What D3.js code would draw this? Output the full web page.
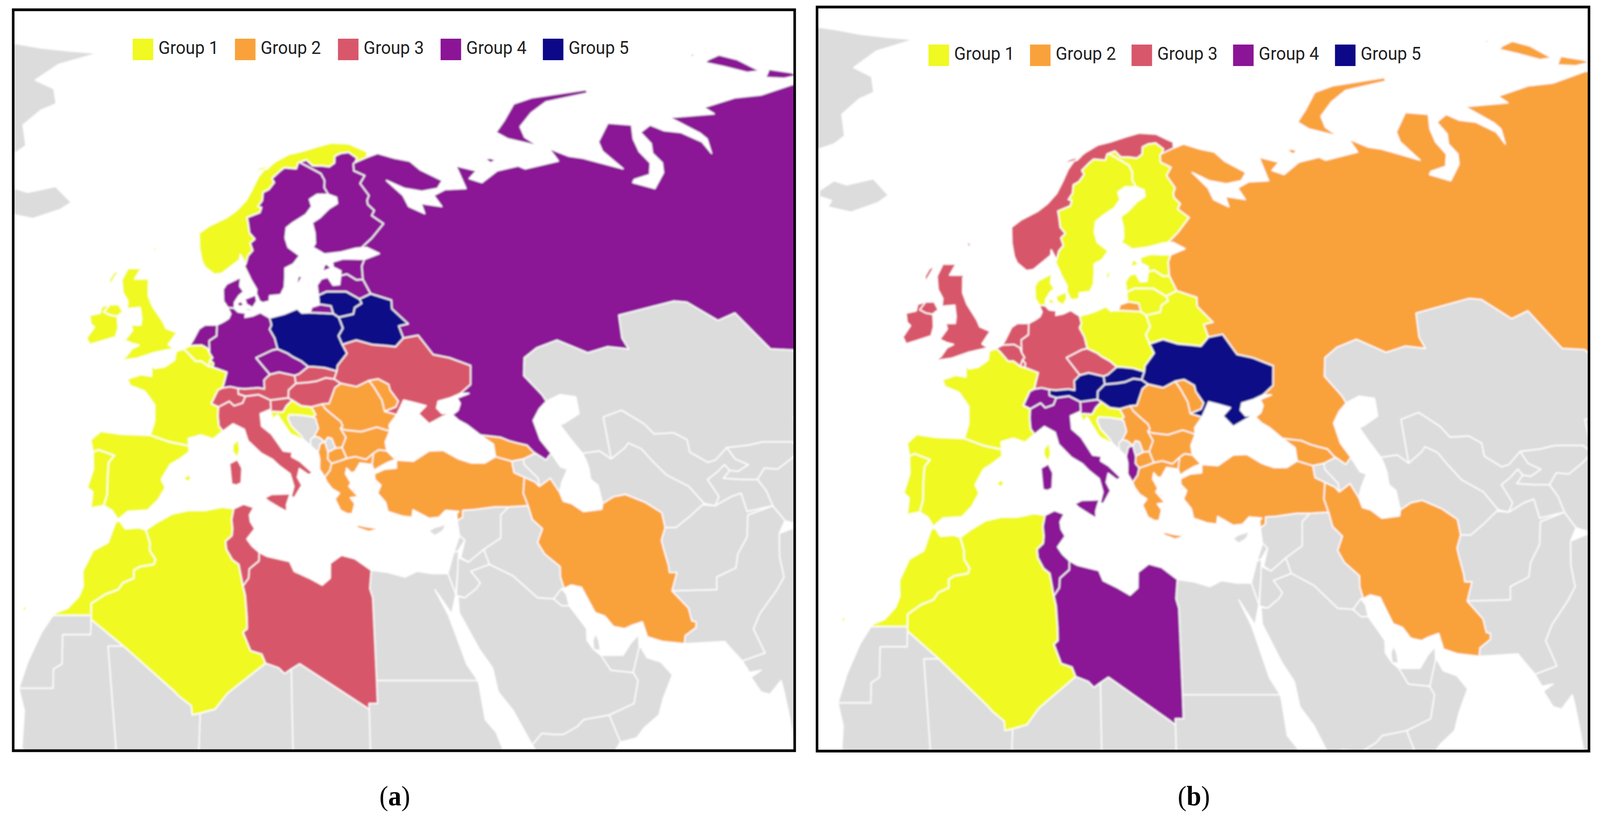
<!DOCTYPE html>
<html>
<head>
<meta charset="utf-8">
<script src="https://cdn.jsdelivr.net/npm/d3@7"></script>
<style>
  html, body { margin: 0; background: #fff; overflow: hidden; }
  #chart { display: block; width: 100vw; height: 100vh; }
</style>
</head>
<body>
<svg id="chart" viewBox="0 0 4365 2106" preserveAspectRatio="none"></svg>
<script>
// country outlines, [lon, lat] rings
const greenland = [[[-30,83],[-26,82.6],[-21.4,82],[-16.4,81.6],[-11.4,81.3],[-17.8,79.9],[-21.3,78],[-18,77],[-17.3,75.3],[-19.6,74.6],[-22.1,73],[-21.2,70.8],[-22.7,70],[-25,69.5],[-30,66],[-40,60],[-60,70]]];
const iceland = [[[-24,65.5],[-22,66.4],[-20,66],[-16,66.6],[-13.5,65],[-15,64.3],[-18.9,63.4],[-22.5,63.9],[-22,64.5],[-24,64.9]]];
const norway = [
  [[7,58],[8,58.1],[8.8,58.5],[10.6,59.4],[10.7,59.9],[11.4,59],[11.8,59.8],[12.5,60.3],[12.2,61],[12.9,61.4],[12.2,62],[12.1,63],[12,63.5],[13.9,64],[14.2,64.5],[13.7,64.6],[14.4,65.2],[14.6,66],[15.5,66.3],[16.4,67],[16.1,67.4],[17.3,68.1],[18.1,68.5],[19.9,68.4],[20.3,69],[20.55,69.06],[21.6,69.3],[22.4,68.7],[23.7,68.7],[24.9,68.6],[25.8,69],[26,69.7],[27,70],[28.2,70.1],[29.3,69.5],[28.9,69.05],[30.9,69.6],[31,70.2],[30,70.5],[28.5,71],[25.8,71.1],[23.5,70.7],[21,70.2],[19,69.9],[17,69.2],[15,68.3],[14,67.5],[13,66.3],[12,65.2],[10.5,64.2],[9,63.5],[6.5,62.7],[5,62],[5,60.5],[5.3,59.3],[5.7,58.7]],
  [[13,68],[15.5,68.4],[16.2,68.8],[14.5,68.5]]
];
const sweden = [
  [[13.4,55.35],[14.3,55.5],[14.4,56],[15.9,56.1],[16.5,56.8],[16.7,57.8],[16.8,58.6],[18,59],[19,59.8],[17.5,60.6],[17.2,61.5],[17.5,62.5],[18.5,63],[20.5,63.8],[21.5,64.6],[21.3,65.3],[22.5,65.8],[24.15,65.8],[23.7,66.5],[23.9,67.2],[23.5,67.9],[22,68.5],[20.55,69.06],[20.3,69],[19.9,68.4],[18.1,68.5],[17.3,68.1],[16.1,67.4],[16.4,67],[15.5,66.3],[14.6,66],[14.4,65.2],[13.7,64.6],[14.2,64.5],[13.9,64],[12,63.5],[12.1,63],[12.2,62],[12.9,61.4],[12.2,61],[12.5,60.3],[11.8,59.8],[11.4,59],[11.2,58.8],[11.7,58],[12,57.5],[12.7,56.6],[12.6,56.2],[13,55.5]],
  [[18.2,57],[18.8,57.5],[19.1,57.9],[18.5,57.8]],
  [[16.4,56.2],[16.9,56.9],[16.6,56.7]]
];
const finland = [[[24.15,65.8],[25.3,65.5],[25.3,64.9],[24,64.4],[22.5,63.5],[21.3,63],[21.5,62],[21.4,61],[21,60.6],[22.5,59.95],[24.9,60.15],[27,60.5],[27.8,60.55],[29.5,61.5],[31.5,62.9],[30,63.7],[30.5,64.2],[29.7,64.8],[29.7,65.2],[30.1,65.7],[29.1,66.9],[30,67.7],[28.5,68.2],[28.6,68.9],[28.9,69.05],[29.3,69.5],[28.2,70.1],[27,70],[26,69.7],[25.8,69],[24.9,68.6],[23.7,68.7],[22.4,68.7],[21.6,69.3],[20.55,69.06],[22,68.5],[23.5,67.9],[23.9,67.2],[23.7,66.5]]];
const denmark = [
  [[8.65,54.9],[8.1,55.5],[8.1,56.6],[8.6,57.1],[10.6,57.75],[10.4,56.9],[10.9,56.4],[10.2,56],[9.6,55.4],[9.5,54.85]],
  [[11,55.7],[12.5,56.1],[12.6,55.5],[12,54.9],[11.2,55.2]],
  [[9.9,55.3],[10.5,55.5],[10.8,55.1],[10.2,55]],
  [[11,54.85],[12,54.72],[11.9,54.6],[11.2,54.65]]
];
const germany = [[[8.65,54.9],[9.5,54.85],[10,54.5],[11,54.4],[10.9,54],[12,54.15],[13,54.45],[14.2,53.95],[14.4,53.3],[14.1,52.9],[14.7,52.1],[15,51.1],[14.3,51],[12.1,50.3],[13.8,48.8],[13,48.3],[13,47.5],[12.2,47.6],[10.5,47.5],[9.6,47.55],[8.6,47.7],[7.6,47.6],[8.2,49],[6.4,49.45],[6.5,49.8],[6.1,50.1],[6.4,50.3],[6,50.75],[6,51.85],[7,52.3],[7.1,53.3],[8,53.6],[8.7,53.9],[9,54.3]]];
const netherlands = [[[3.4,51.4],[3.9,51.95],[4.7,52.95],[5.5,53.3],[7.1,53.3],[7,52.3],[6,51.85],[6,50.75],[5.8,51.15],[5,51.45]]];
const belgium = [[[2.55,51.1],[3.4,51.4],[5,51.45],[5.8,51.15],[6,50.75],[6.4,50.3],[6.1,50.1],[5.8,49.55],[4.9,50],[4.15,50],[3.1,50.8]]];
const luxembourg = [[[5.8,49.55],[6.1,50.1],[6.5,49.8],[6.4,49.45]]];
const france = [
  [[2.55,51.1],[1.6,50.9],[1.4,50.1],[0.1,49.5],[-1.2,49.35],[-1.6,49.65],[-1.6,48.65],[-3,48.8],[-4.75,48.4],[-4.4,47.8],[-2.5,47.3],[-1.2,46.1],[-1.2,44.6],[-1.75,43.4],[0.7,42.8],[3.15,42.45],[3.1,43.1],[4.7,43.4],[6.2,43.05],[7.5,43.75],[7,44.2],[6.9,45.1],[7,45.9],[6.1,46.2],[7,47.4],[7.6,47.6],[8.2,49],[6.4,49.45],[5.8,49.55],[4.9,50],[4.15,50],[3.1,50.8]],
  [[9.4,43],[9.55,42.1],[9.2,41.4],[8.6,42],[8.7,42.6]]
];
const uk = [
  [[-5.7,50.05],[-3.5,50.25],[-1.3,50.75],[1.4,51.15],[0.6,51.5],[1.75,52.6],[0.3,53],[-0.1,53.6],[-1.5,55],[-2.1,56],[-2.1,57.4],[-1.8,57.6],[-4,57.6],[-3.1,58.6],[-5,58.6],[-5.8,57.5],[-5.6,56.3],[-4.9,55.5],[-5,54.8],[-3.2,54.9],[-3,53.9],[-3.1,53.3],[-4.4,53.3],[-4.2,52.8],[-5.2,51.9],[-4.2,51.6],[-3.3,51.45],[-4.2,51.15],[-5,50.4]],
  [[-5.5,54.5],[-6.1,55.2],[-7.3,55.2],[-8.1,54.5],[-7.2,54.2],[-6.3,54.1]],
  [[-7.4,57],[-6.2,58.4],[-6.9,58.2],[-7.5,57.5]],
  [[-1.3,60],[-1,60.6],[-1.5,60.5]]
];
const ireland = [[[-6.1,53],[-6.2,53.9],[-6.3,54.1],[-7.2,54.2],[-8.1,54.5],[-7.3,55.2],[-8.4,55],[-8.6,54.4],[-10,54.2],[-9.8,53.4],[-9.3,53.1],[-10.3,52.1],[-9.8,51.5],[-8.3,51.8],[-6.4,52.2]]];
const spain = [
  [[-9.25,43],[-8,43.75],[-5.5,43.5],[-1.75,43.4],[0.7,42.8],[3.15,42.45],[3.2,41.9],[2,41.3],[0.8,40.8],[-0.3,39.5],[0.2,38.8],[-0.7,37.7],[-2,36.8],[-4.4,36.7],[-5.6,36],[-6.4,36.8],[-7.4,37.2],[-7,38.2],[-7,39.7],[-6.9,41],[-6.2,41.6],[-8.2,42.1],[-8.9,41.9]],
  [[2.4,39.6],[3.1,39.95],[3.4,39.6],[3,39.3]],
  [[3.8,40],[4.3,40],[4.2,39.85]],
  [[1.2,38.95],[1.6,39.05],[1.5,38.9]],
  [[-13.4,29.2],[-13.6,28.9],[-14.3,28],[-14,28.5]],
  [[-15.7,28],[-15.4,28.15],[-15.5,27.8]],
  [[-16.9,28.3],[-16.2,28.55],[-16.6,28]],
  [[-18,28.7],[-17.8,28.85],[-17.8,28.5]]
];
const portugal = [
  [[-8.9,41.9],[-8.2,42.1],[-6.2,41.6],[-6.9,41],[-7,39.7],[-7,38.2],[-7.4,37.2],[-9,37],[-8.8,38.4],[-9.5,38.8],[-8.8,40.4]],
  [[-17.2,32.75],[-16.7,32.8],[-16.8,32.6]]
];
const morocco = [[[-13.2,27.67],[-8.67,27.67],[-8.67,28.7],[-7,29.5],[-5.5,29.9],[-4.9,30.5],[-3.6,30.9],[-3.6,31.6],[-2.9,31.9],[-1.2,32.1],[-1,32.5],[-1.7,33.3],[-1.7,34],[-2.2,35.1],[-3,35.3],[-4.7,35.2],[-5.4,35.9],[-5.9,35.8],[-6.8,34],[-8.6,33.3],[-9.8,31.5],[-9.7,30.2],[-10.2,29.3],[-11.5,28.3],[-12.9,27.9]]];
const algeria = [[[-2.2,35.1],[-1.7,34],[-1.7,33.3],[-1,32.5],[-1.2,32.1],[-2.9,31.9],[-3.6,31.6],[-3.6,30.9],[-4.9,30.5],[-5.5,29.9],[-7,29.5],[-8.67,28.7],[-8.67,27.3],[-4.8,25],[1.15,21.1],[1.8,20.6],[3.2,19.8],[3.3,19],[4.25,19.15],[6,19.5],[7.5,20.9],[12,23.5],[11.56,24.3],[10.25,24.6],[9.4,26.2],[9.9,26.5],[9.9,27.5],[9.75,29.4],[9.5,30.23],[9.05,32.1],[8.3,32.5],[7.6,33.4],[7.5,34.1],[8.3,34.6],[8.4,35.2],[8.3,36],[8.6,36.95],[7.2,37.1],[5,36.8],[3,36.8],[1,36.5],[-1,35.7]]];
const tunisia = [[[8.6,36.95],[9.8,37.35],[11.05,37.05],[10.5,36.4],[10.6,35.8],[11.1,35.2],[10.1,34.3],[10.7,33.7],[11.55,33.15],[11.5,32.4],[10.3,31.7],[10.2,30.9],[9.5,30.23],[9.05,32.1],[8.3,32.5],[7.6,33.4],[7.5,34.1],[8.3,34.6],[8.4,35.2],[8.3,36]]];
const libya = [[[11.55,33.15],[12.5,32.8],[15.2,32.35],[15.7,31.5],[17.5,30.9],[19,30.3],[20,30.9],[20.1,32.2],[21.5,32.9],[23.1,32.6],[25,31.6],[24.7,30],[25,29.2],[25,22],[25,20],[24,20],[24,19.5],[16,23.45],[15,23],[14.2,22.6],[13.5,23.1],[12,23.5],[11.56,24.3],[10.25,24.6],[9.4,26.2],[9.9,26.5],[9.9,27.5],[9.75,29.4],[9.5,30.23],[10.2,30.9],[10.3,31.7],[11.5,32.4]]];
const italy = [
  [[7.5,43.75],[8.8,44.4],[10.2,43.9],[10.6,42.9],[12.2,41.8],[13.6,41.25],[14.4,40.7],[15.7,40],[16.1,38.9],[15.7,38],[16.1,37.9],[17.1,39],[16.6,39.7],[16.9,40.45],[18,39.9],[18.5,40.1],[17,41.1],[16,41.5],[16.1,41.9],[15,42],[13.6,43.5],[12.4,44.2],[12.3,45.3],[13.7,45.7],[13.7,46.5],[12.2,47],[10.5,46.85],[10.1,46.25],[9,46],[8.4,46.4],[7,45.9],[6.9,45.1],[7,44.2]],
  [[12.45,37.9],[13.3,38.2],[15.6,38.25],[15.1,37.3],[15.1,36.7],[14.3,37],[12.9,37.6]],
  [[8.2,40.9],[9.2,41.25],[9.75,40.5],[9.6,39.2],[9,39],[8.4,39.1]]
];
const switzerland = [[[6.1,46.2],[7,45.9],[8.4,46.4],[9,46],[10.1,46.25],[10.5,46.85],[9.6,47.05],[9.6,47.55],[8.6,47.7],[7.6,47.6],[7,47.4]]];
const austria = [[[9.6,47.05],[10.5,46.85],[12.2,47],[13.7,46.5],[16,46.7],[16.1,47.4],[17.1,48],[17,48.7],[15,49],[13.8,48.8],[13,48.3],[13,47.5],[12.2,47.6],[10.5,47.5],[9.6,47.55]]];
const slovenia = [[[13.7,45.7],[13.6,45.5],[15.2,45.45],[15.7,46],[16.5,46.5],[16,46.7],[13.7,46.5]]];
const croatia = [[[13.6,45.5],[13.9,44.8],[14.5,45.2],[15,44.6],[16,43.5],[17.5,43],[18.5,42.45],[17.7,42.95],[17.3,43.4],[16.2,44.2],[15.8,44.9],[16,45.2],[17.5,45.15],[19,45],[19.4,45.2],[18.9,45.9],[17.6,46],[16.5,46.5],[15.7,46],[15.2,45.45]]];
const bosnia = [[[15.8,44.9],[16.2,44.2],[17.3,43.4],[17.7,42.95],[18.5,42.45],[18.5,43],[19,43.3],[19.6,44],[19.3,44.9],[19,45],[17.5,45.15],[16,45.2]]];
const montenegro = [[[18.5,42.45],[19.35,41.9],[19.7,42.65],[20.3,42.8],[19.6,43.2],[19,43.3],[18.5,43]]];
const kosovo = [[[20.3,42.8],[20.6,41.9],[21.6,42.25],[21.2,43.1],[20.7,43.2]]];
const serbia = [[[18.9,45.9],[20.3,46.15],[20.7,45.7],[21.5,45.2],[22.5,44.6],[22.7,44.2],[22.4,44],[23,43.2],[22.4,42.3],[21.6,42.25],[21.2,43.1],[20.7,43.2],[20.3,42.8],[19.6,43.2],[19,43.3],[19.6,44],[19.3,44.9],[19,45],[19.4,45.2]]];
const hungary = [[[16,46.7],[16.5,46.5],[17.6,46],[18.9,45.9],[20.3,46.15],[21.2,46.2],[22.1,47.6],[22.9,48],[22.1,48.4],[21,48.5],[19.8,48.2],[18.8,48.1],[17.1,48],[16.1,47.4]]];
const slovakia = [[[17.1,48],[18.8,48.1],[19.8,48.2],[21,48.5],[22.1,48.4],[22.55,49.1],[21,49.4],[19.5,49.5],[18.85,49.5],[17.6,48.85],[17,48.7]]];
const czechia = [[[12.1,50.3],[14.3,51],[15,51.1],[16.3,50.7],[16.9,50.4],[18,50],[18.85,49.5],[17.6,48.85],[17,48.7],[15,49],[13.8,48.8]]];
const poland = [[[14.2,53.95],[16.2,54.3],[18,54.8],[18.6,54.4],[19.7,54.45],[22.8,54.35],[23.5,54],[23.9,53],[23.2,52.3],[23.6,51.5],[24.1,50.7],[22.7,49.6],[22.55,49.1],[21,49.4],[19.5,49.5],[18.85,49.5],[18,50],[16.9,50.4],[16.3,50.7],[15,51.1],[14.7,52.1],[14.1,52.9],[14.4,53.3]]];
const lithuania = [[[21.05,55.2],[21.05,56.05],[22.2,56.4],[24.9,56.4],[26.6,55.7],[26.8,55.3],[25.8,54.9],[25.5,54.3],[23.5,54],[22.8,54.35],[22.6,55.05]]];
const latvia = [[[21.05,56.05],[21,57],[21.7,57.6],[22.6,57.75],[23.2,57],[24.1,57.05],[24.4,57.9],[25.3,58.05],[26.5,57.5],[27.4,57.55],[28.2,56.2],[26.6,55.7],[24.9,56.4],[22.2,56.4]]];
const estonia = [
  [[24.4,57.9],[24.5,58.35],[23.5,58.7],[23.5,59.2],[25,59.5],[28,59.45],[27.5,58.8],[27.4,57.55],[26.5,57.5],[25.3,58.05]],
  [[22,58.3],[23.2,58.6],[22.7,59],[22.3,58.9]]
];
const belarus = [[[23.5,54],[25.5,54.3],[25.8,54.9],[26.8,55.3],[26.6,55.7],[28.2,56.2],[30.9,55.6],[30.8,54.8],[32.7,53.4],[31.4,53.2],[31.8,52.1],[30.6,51.3],[29.3,51.4],[27.5,51.5],[25.5,51.9],[23.6,51.5],[23.2,52.3],[23.9,53]]];
const ukraine = [[[22.55,49.1],[22.7,49.6],[24.1,50.7],[23.6,51.5],[25.5,51.9],[27.5,51.5],[29.3,51.4],[30.6,51.3],[31.8,52.1],[33.8,52.35],[34.4,51.7],[35.4,50.6],[37.5,50.3],[40.1,49.6],[39.7,47.9],[38.2,47.1],[36.8,46.7],[35.2,46.4],[34.9,45.8],[35.5,45.3],[36.6,45.4],[35.4,45],[33.7,44.4],[32.5,45.3],[33.6,46],[32,46.3],[30.8,46.5],[29.7,45.2],[28.2,45.5],[29.7,45.9],[30.1,46.4],[29.2,47.4],[29.1,47.9],[27.8,48.4],[26.6,48.25],[24.9,47.7],[22.9,48],[22.1,48.4]]];
const moldova = [[[26.6,48.25],[27.8,48.4],[29.1,47.9],[29.2,47.4],[30.1,46.4],[29.7,45.9],[28.2,45.5],[28,46.5],[27.2,47.6]]];
const romania = [[[22.9,48],[24.9,47.7],[26.6,48.25],[27.2,47.6],[28,46.5],[28.2,45.5],[29.7,45.2],[28.6,44.3],[28.6,43.75],[27,44.1],[25,43.7],[23,43.85],[22.4,44],[22.7,44.2],[22.5,44.6],[21.5,45.2],[20.7,45.7],[20.3,46.15],[21.2,46.2],[22.1,47.6]]];
const bulgaria = [[[22.4,44],[23,43.85],[25,43.7],[27,44.1],[28.6,43.75],[27.9,42.8],[28,42],[27,42.1],[26.3,41.8],[25.3,41.25],[24,41.5],[22.9,41.35],[22.4,42.3],[23,43.2]]];
const macedonia = [[[20.6,41.9],[21.6,42.25],[22.4,42.3],[22.9,41.35],[21.9,41.1],[20.95,40.9],[20.5,41.3]]];
const albania = [[[19.35,41.9],[19.7,42.65],[20.3,42.8],[20.6,41.9],[20.5,41.3],[20.95,40.9],[20.7,40.3],[20,39.7],[19.4,40.4],[19.5,41.3]]];
const greece = [
  [[20,39.7],[20.7,40.3],[20.95,40.9],[21.9,41.1],[22.9,41.35],[24,41.5],[25.3,41.25],[26.3,41.8],[26,40.8],[24.5,40.95],[23.8,40.2],[24.3,40.2],[23.3,40.1],[22.8,40.5],[22.6,40],[23.2,39.2],[22.9,38.9],[24,38],[23,37.9],[23.5,37.4],[23.1,36.5],[22.5,36.5],[21.7,36.8],[21.1,37.8],[21.7,38.3],[20.8,38.7],[20.2,39.3]],
  [[23.6,35.55],[24.5,35.4],[26.3,35.2],[25,34.95],[23.6,35.3]],
  [[23,39],[24.4,38.2],[23.5,38.5]],
  [[26,39.2],[26.5,39.3],[26.4,39]],
  [[26,38.5],[26.1,38.3],[25.9,38.2]],
  [[26.6,37.8],[27,37.75],[26.7,37.65]],
  [[27.8,36.2],[28.2,36.4],[27.8,35.9]],
  [[25.4,37.1],[25.6,37.1],[25.5,36.9]],
  [[24.9,37.85],[25.1,37.8],[24.9,37.7]],
  [[25.4,36.4],[25.5,36.45],[25.45,36.3]],
  [[19.7,39.7],[20,39.75],[19.9,39.45]],
  [[20.5,38.3],[20.7,38.3],[20.7,38.1]]
];
const turkey = [
  [[26.2,39.5],[26.2,40],[27.5,40.4],[29,40.5],[29.1,41.2],[31.2,41.1],[33.3,42],[35.1,42.05],[36.9,41.3],[38.4,40.95],[40.1,40.95],[41.55,41.5],[43.5,41.1],[43.6,40.1],[44.8,39.7],[44.4,38.3],[44.8,37.2],[42.4,37.1],[40.7,37.1],[38,36.85],[36.7,36.8],[36.6,36.2],[35.9,35.9],[35.9,36.5],[36.2,36.7],[34.6,36.8],[33.7,36.2],[32.5,36.1],[30.6,36.85],[30.4,36.2],[29.2,36.3],[27.5,36.7],[27.3,37.5],[26.4,38.3],[26.9,39]],
  [[26,40.8],[26.3,41.8],[27,42.1],[28,42],[29,41.25],[28,41],[26.9,40.6],[26.2,40.3]]
];
const iran = [[[44.8,39.7],[46,39.3],[46.5,38.9],[48,39.6],[48.9,38.4],[49.2,37.6],[50.2,37.4],[51.5,36.7],[53.8,36.9],[54,37.4],[55.5,38],[57,38.2],[59.3,37.5],[61.1,36.6],[61.2,35.3],[60.5,34.2],[60.6,33.5],[60.9,32],[60.9,31.4],[61.8,31.4],[60.9,29.8],[62.6,28.3],[62.8,27.2],[63.3,27.1],[63.2,26.6],[61.8,25.9],[61.6,25.2],[59,25.4],[57.3,25.8],[56.9,27.1],[55.6,26.8],[54.7,26.5],[53.4,26.7],[52.5,27.6],[51.4,27.9],[50.8,28.9],[50.1,30.1],[48.9,30.3],[48,30],[47.7,31],[47.8,31.9],[46.1,33],[45.4,34],[46.2,35.2],[45.1,36],[44.8,37.2],[44.4,38.3]]];
const georgia = [[[40,43.4],[41.5,42.6],[41.55,41.5],[43.5,41.1],[45,41.3],[46.6,41.8],[46.4,41.9],[45.7,42.5],[44.5,42.7],[43.5,42.9],[42.5,43.2]]];
const armenia = [[[43.5,41.1],[45,41.3],[45,40.8],[46.5,39.6],[46.5,38.9],[46,39.3],[44.8,39.7],[43.6,40.1]]];
const azerbaijan = [[[45,41.3],[46.6,41.8],[46.4,41.9],[47.8,41.2],[48.6,41.8],[49.5,40.6],[50.3,40.4],[49.4,39.3],[48.9,38.4],[48,39.6],[46.5,38.9],[46.5,39.6],[45,40.8]]];
const russia = [
  [[30.9,69.6],[32.6,70],[35,69.5],[37.2,69.2],[38.5,68.3],[41.4,67.2],[40.4,66.4],[38,66.1],[35.5,66.4],[33.1,67.2],[35.1,65.7],[35.6,64.6],[37.7,63.9],[37.5,64.9],[40.4,64.6],[39.6,65.7],[41.5,66.3],[44.6,66.4],[44,68.7],[46.9,68.2],[45.5,67.4],[47.2,67],[50,68.2],[53.4,68.7],[54.3,68.4],[59.7,69.2],[59,70.5],[61.6,69.7],[63.6,69.5],[69,68.4],[67,70.2],[67,71.2],[69.8,73.2],[73.4,73],[72.6,71.5],[72.6,70.2],[73.5,69],[72.6,67.8],[70,67.3],[69.6,67],[72.5,66.4],[74.8,68],[75.3,69],[74.5,70],[75,71],[74.2,72.2],[76.3,73],[78,72.4],[80.5,72.2],[83,71.2],[83.5,70],[84,71.5],[83.4,72.1],[80,73.8],[87.4,74.2],[86.4,74.9],[92.5,76],[97,76.3],[104,77.6],[112,77],[125,73],[125,50],[95,49],[87.3,49.1],[85.5,49.6],[83,51],[80,51.1],[76.9,54.4],[74.3,53.7],[70.9,55.4],[69.2,55.5],[61.2,54.2],[60.8,52.1],[61.3,51.1],[58.6,51.3],[55.8,50.75],[52.1,51.9],[49.2,51.2],[47.3,50.3],[46.8,48.7],[48.7,47],[49.1,46.4],[48,45.7],[47,44.7],[47.5,43],[48.6,41.8],[47.8,41.2],[46.4,41.9],[45.7,42.5],[44.5,42.7],[43.5,42.9],[42.5,43.2],[40,43.4],[38.5,44.3],[37.5,44.7],[36.8,45.2],[37.6,45.6],[38,46.2],[37.7,46.7],[39.3,47.1],[38.2,47.1],[39.7,47.9],[40.1,49.6],[37.5,50.3],[35.4,50.6],[34.4,51.7],[33.8,52.35],[31.8,52.1],[31.4,53.2],[32.7,53.4],[30.8,54.8],[30.9,55.6],[28.2,56.2],[27.4,57.55],[27.5,58.8],[28,59.45],[30.2,60],[28.5,60.6],[27.8,60.55],[29.5,61.5],[31.5,62.9],[30,63.7],[30.5,64.2],[29.7,64.8],[29.7,65.2],[30.1,65.7],[29.1,66.9],[30,67.7],[28.5,68.2],[28.6,68.9],[28.9,69.05]],
  [[19.7,54.45],[20,54.95],[21.2,55.2],[22.6,55.05],[22.8,54.35]],
  [[51.7,72.2],[53.7,73.5],[56.2,75.3],[59.6,76],[69,76.9],[69,76.5],[61.5,75.5],[58.4,74.3],[55.8,72.8],[55.9,71.7],[57.4,70.8],[53.2,71.5]],
  [[48.7,69.4],[49.5,69.5],[50.3,69.3],[49.4,69]],
  [[93,80.5],[95.6,81.1],[98,80.5],[100,79.1],[97.7,78.9],[94.6,79.6],[92,80.1]],
  [[100,78.3],[101.8,79.3],[105,78.9],[106,78.6],[103,78.2]],
  [[90,81.1],[91.5,81.2],[91,80.9]]
];
const kazakhstan = [[[49.1,46.4],[51,47],[53,46.8],[53,45.3],[51,44.5],[50.3,44.3],[51.3,43.1],[52.5,41.8],[54.7,42],[56,41.3],[56,45],[58.5,45.6],[61,44.4],[62,43.5],[64.5,43.6],[66,43],[66,41.9],[68,41],[69,41.2],[70.8,42.3],[73.5,42.5],[75.5,42.8],[79.2,42.8],[80.2,42.2],[80.3,45],[82.5,45.2],[83,47.2],[85.5,47.1],[85.7,48.4],[87.3,49.1],[85.5,49.6],[83,51],[80,51.1],[76.9,54.4],[74.3,53.7],[70.9,55.4],[69.2,55.5],[61.2,54.2],[60.8,52.1],[61.3,51.1],[58.6,51.3],[55.8,50.75],[52.1,51.9],[49.2,51.2],[47.3,50.3],[46.8,48.7],[48.7,47]]];
const uzbekistan = [[[56,45],[58.5,45.6],[61,44.4],[62,43.5],[64.5,43.6],[66,43],[66,41.9],[68,41],[69,41.2],[70.8,42.3],[71.5,41.3],[73,40.8],[71.5,40.2],[70.5,40.3],[70,40.8],[68.8,40.1],[67.5,39.5],[68.5,38],[67.8,37.2],[66.5,37.4],[65,38.9],[62.5,39.9],[61,41.2],[60,42.2],[58.5,42.7],[58,42.3],[56,41.3]]];
const turkmenistan = [[[52.5,41.8],[54.7,42],[56,41.3],[58,42.3],[58.5,42.7],[60,42.2],[61,41.2],[62.5,39.9],[65,38.9],[66.5,37.4],[66.3,37.3],[64.5,36.3],[62.5,35.3],[61.2,35.3],[61.1,36.6],[59.3,37.5],[57,38.2],[55.5,38],[54,37.4],[53.8,39],[53,39.5],[53,40.5],[52.8,41.2]]];
const kyrgyzstan = [[[69.5,39.6],[70.5,40.3],[71.5,40.2],[73,40.8],[71.5,41.3],[70.8,42.3],[73.5,42.5],[75.5,42.8],[79.2,42.8],[80.2,42.2],[78.5,41.3],[76.5,40.4],[74.9,40.5],[73.7,39.5],[71.7,39.5]]];
const tajikistan = [[[68.8,40.1],[70,40.8],[70.5,40.3],[69.5,39.6],[71.7,39.5],[73.7,39.5],[74.5,38.5],[74.9,37.2],[71.6,36.7],[71.3,38.3],[70,38],[67.8,37.2],[68.5,38],[67.5,39.5]]];
const afghanistan = [[[61.2,35.3],[62.5,35.3],[64.5,36.3],[66.3,37.3],[67.8,37.2],[70,38],[71.3,38.3],[71.6,36.7],[74.9,37.2],[71.6,36.4],[71,34.5],[69.5,33],[69,31.8],[66.5,31],[66.3,29.9],[60.9,29.8],[61.8,31.4],[60.9,31.4],[60.9,32],[60.6,33.5],[60.5,34.2]]];
const pakistan = [[[60.9,29.8],[66.3,29.9],[66.5,31],[69,31.8],[69.5,33],[71,34.5],[71.6,36.4],[74.9,37.2],[76,35.9],[75,34.8],[74.5,32.8],[74.6,31],[73.5,29.9],[71,27.8],[70,26.5],[71,24.4],[68.2,23.7],[67,24.8],[66.4,25.4],[61.6,25.2],[61.8,25.9],[63.2,26.6],[63.3,27.1],[62.8,27.2],[62.6,28.3]]];
const india = [[[68.2,23.7],[71,24.4],[70,26.5],[71,27.8],[73.5,29.9],[74.6,31],[74.5,32.8],[75,34.8],[77.8,35.5],[80,33],[79,31],[81,30],[88,28],[95,28],[95,15],[73.5,15],[73,19],[72.7,21],[72.5,22],[71,20.8],[70,21],[69,22.3],[70.3,22.9],[68.9,22.7]]];
const china = [[[73.7,39.5],[74.9,40.5],[76.5,40.4],[78.5,41.3],[80.2,42.2],[80.3,45],[82.5,45.2],[83,47.2],[85.5,47.1],[85.7,48.4],[87.3,49.1],[95,49],[95,28],[88,28],[81,30],[79,31],[80,33],[77.8,35.5],[76,35.9],[74.9,37.2],[74.5,38.5]]];
const syria = [[[35.9,35.9],[36.6,36.2],[36.7,36.8],[38,36.85],[40.7,37.1],[42.4,37.1],[41.3,36.4],[41,34.4],[38.8,33.4],[36.8,32.3],[35.9,32.7],[36.6,34.2],[36,34.6]]];
const lebanon = [[[36,34.6],[36.6,34.2],[35.7,33.3],[35.1,33.1]]];
const israel = [[[35.1,33.1],[35.7,33.3],[35.6,32.2],[35.4,31.5],[34.95,29.5],[34.2,31.3]]];
const jordan = [[[35.6,32.7],[36.8,32.3],[38.8,33.4],[39.3,32.1],[37,31.5],[38,30.5],[37.5,30],[36,29.2],[35,29.4],[35.4,31.5]]];
const iraq = [[[42.4,37.1],[44.8,37.2],[45.1,36],[46.2,35.2],[45.4,34],[46.1,33],[47.8,31.9],[47.7,31],[48,30],[47.7,30],[46.6,29.1],[44.7,29.2],[42,31.1],[39.3,32.1],[38.8,33.4],[41,34.4],[41.3,36.4]]];
const kuwait = [[[46.6,29.1],[47.7,30],[48.2,29.5],[48.4,28.5],[47.5,28.5]]];
const saudi = [[[35.2,29.3],[36,29.2],[37.5,30],[38,30.5],[37,31.5],[39.3,32.1],[42,31.1],[44.7,29.2],[46.6,29.1],[47.5,28.5],[48.4,28.5],[49.5,27.3],[50.2,26.5],[50.1,25.5],[50.8,24.7],[51.6,24.2],[52.6,22.9],[55.2,22.7],[55.7,22],[55,20],[52,19],[49,18.6],[48.2,18],[46.5,17.3],[45.4,17.3],[44,17.4],[43.2,16.7],[42.8,16.4],[40.8,19.4],[39.2,21],[38.7,23.1],[37.3,24.7],[35.2,27.9]]];
const yemen = [[[42.8,16.4],[43.2,16.7],[44,17.4],[45.4,17.3],[46.5,17.3],[48.2,18],[49,18.6],[52,19],[53.1,16.65],[52.2,15.6],[49,14],[45,12.8],[43.5,12.7],[43.1,14],[43.1,16]]];
const oman = [[[52,19],[55,20],[55.7,22],[55.2,22.7],[56.2,24.9],[56.4,24.9],[57,24],[58.6,23.6],[59.8,22.5],[58.5,20.5],[57.8,19],[56,17.9],[55,17],[53.1,16.65]]];
const uae = [[[51.6,24.2],[52.6,22.9],[55.2,22.7],[56.2,24.9],[56.3,26],[55.3,25.3],[54.2,24.2],[53,24.2]]];
const qatar = [[[50.8,24.7],[51.6,24.6],[51.5,25.5],[51.2,26.1],[50.8,25.5]]];
const cyprus = [[[32.3,35],[33,35.3],[34.5,35.6],[34,35],[33,34.6]]];
const egypt = [[[25,31.6],[27,31.4],[29,31],[30.5,31.5],[32.3,31.3],[34.2,31.3],[34.95,29.5],[34.3,27.8],[32.5,29.9],[33.9,27.7],[35.7,23.4],[36.9,22],[25,22],[25,29.2],[24.7,30]]];
const sudan = [[[25,22],[36.9,22],[37,21.6],[37.5,18.6],[38.7,17.5],[39.4,16],[39.4,15],[24,15],[24,19.5],[24,20],[25,20]]];
const chad = [[[24,19.5],[16,23.45],[15,23],[15,15],[24,15]]];
const niger = [[[15,23],[14.2,22.6],[13.5,23.1],[12,23.5],[7.5,20.9],[6,19.5],[4.25,19.15],[4,15],[15,15]]];
const mali = [[[4.25,19.15],[3.3,19],[3.2,19.8],[1.8,20.6],[1.15,21.1],[-4.8,25],[-6.6,25],[-5.5,15.5],[-12,14.5],[4,15]]];
const mauritania = [[[-4.8,25],[-8.67,27.3],[-8.67,26],[-12,26],[-12,23.45],[-13,23],[-13,21.33],[-17,21.33],[-16.3,19.4],[-16.5,16],[-12,14.5],[-5.5,15.5],[-6.6,25]]];
const westernSahara = [[[-13.2,27.67],[-8.67,27.67],[-8.67,26],[-12,26],[-12,23.45],[-13,23],[-13,21.33],[-17,21.33],[-16,23.7],[-14.5,26.2]]];
const senegal = [[[-16.5,16],[-12,14.5],[-16.8,14.5]]];

const shapes = { greenland, iceland, norway, sweden, finland, denmark, germany, netherlands, belgium, luxembourg, france, uk, ireland, spain, portugal, morocco, algeria, tunisia, libya, italy, switzerland, austria, slovenia, croatia, bosnia, montenegro, kosovo, serbia, hungary, slovakia, czechia, poland, lithuania, latvia, estonia, belarus, ukraine, moldova, romania, bulgaria, macedonia, albania, greece, turkey, iran, georgia, armenia, azerbaijan, russia, kazakhstan, uzbekistan, turkmenistan, kyrgyzstan, tajikistan, afghanistan, pakistan, india, china, syria, lebanon, israel, jordan, iraq, kuwait, saudi, yemen, oman, uae, qatar, cyprus, egypt, sudan, chad, niger, mali, mauritania, westernSahara, senegal };

const groupNames = ["Group 1", "Group 2", "Group 3", "Group 4", "Group 5"];
const groupColors = ["#f0f921", "#f9a23b", "#d8576b", "#8b1596", "#0d0887"];

// group of each country, anything not listed stays grey
const groupsA = [
  ["norway", "uk", "ireland", "france", "belgium", "luxembourg", "spain", "portugal", "morocco", "algeria", "croatia"],
  ["romania", "moldova", "bulgaria", "serbia", "macedonia", "albania", "greece", "turkey", "iran", "georgia"],
  ["ukraine", "slovakia", "hungary", "austria", "switzerland", "slovenia", "italy", "tunisia", "libya"],
  ["russia", "sweden", "finland", "estonia", "latvia", "denmark", "germany", "czechia", "netherlands"],
  ["poland", "lithuania", "belarus"]
];
const groupsB = [
  ["sweden", "finland", "estonia", "latvia", "lithuania", "denmark", "poland", "belarus", "france", "spain", "portugal", "morocco", "algeria", "croatia"],
  ["russia", "romania", "moldova", "bulgaria", "serbia", "macedonia", "greece", "turkey", "georgia", "iran"],
  ["norway", "uk", "ireland", "germany", "netherlands", "belgium", "luxembourg", "czechia"],
  ["switzerland", "italy", "slovenia", "albania", "tunisia", "libya"],
  ["austria", "slovakia", "hungary", "ukraine"]
];

const svg = d3.select("#chart");
const rad = Math.PI / 180;

svg.append("defs").append("filter").attr("id", "soft")
  .append("feGaussianBlur").attr("stdDeviation", 2);

function drawPanel(id, groups, frame, xRange, yRange, legendX, legendY, caption, captionX) {
  const x = d3.scaleLinear().domain([0, 1]).range(xRange);
  const y = d3.scaleLinear().domain([0, 1]).range(yRange);
  const transform = d3.geoTransform({
    point(lon, lat) {
      const p = d3.geoNaturalEarth1Raw(lon * rad, lat * rad);
      this.stream.point(x(p[0]), y(p[1]));
    }
  });
  const path = d3.geoPath(transform);

  const colorOf = {};
  groups.forEach((names, i) => names.forEach(n => { colorOf[n] = groupColors[i]; }));

  const features = Object.keys(shapes).map(name => ({
    type: "Feature",
    properties: { name },
    geometry: { type: "MultiPolygon", coordinates: shapes[name].map(r => [[...r, r[0]]]) }
  }));
  // grey ones first so coloured outlines stay on top
  features.sort((a, b) => (colorOf[a.properties.name] ? 1 : 0) - (colorOf[b.properties.name] ? 1 : 0));

  const g = svg.append("g");
  svg.select("defs").append("clipPath").attr("id", id)
    .append("rect")
    .attr("x", frame.x).attr("y", frame.y)
    .attr("width", frame.w).attr("height", frame.h);

  g.append("g")
    .attr("clip-path", `url(#${id})`)
    .append("g")
    .attr("filter", "url(#soft)")
    .selectAll("path")
    .data(features)
    .join("path")
    .attr("d", path)
    .attr("fill", d => colorOf[d.properties.name] || "#dcdcdc")
    .attr("stroke", "#fff")
    .attr("stroke-width", 3.5)
    .attr("stroke-linejoin", "round");

  g.append("rect")
    .attr("x", frame.x).attr("y", frame.y)
    .attr("width", frame.w).attr("height", frame.h)
    .attr("fill", "none")
    .attr("stroke", "#000")
    .attr("stroke-width", 7);

  const legend = g.selectAll(".legend")
    .data(groupNames)
    .join("g")
    .attr("class", "legend")
    .attr("transform", (d, i) => `translate(${legendX[i]},${legendY})`);
  legend.append("rect")
    .attr("width", 56).attr("height", 55)
    .attr("fill", (d, i) => groupColors[i]);
  legend.append("text")
    .attr("x", 70).attr("y", 39)
    .attr("font-family", "Roboto")
    .attr("font-size", 47)
    .attr("fill", "#222")
    .text(d => d);

  const cap = g.append("text")
    .attr("x", captionX).attr("y", 2061)
    .attr("text-anchor", "middle")
    .attr("font-family", "Liberation Serif")
    .attr("font-size", 72)
    .attr("fill", "#000");
  cap.append("tspan").text("(");
  cap.append("tspan").attr("font-weight", "bold").text(caption);
  cap.append("tspan").text(")");
}

drawPanel("clipA", groupsA, { x: 36, y: 25, w: 2132, h: 1896 },
  [447, 2011], [2386, 723], [362, 641, 922, 1202, 1481], 99, "a", 1077);
drawPanel("clipB", groupsB, { x: 2229, y: 18, w: 2106, h: 1904 },
  [2667, 4174], [2451, 714], [2533, 2810, 3087, 3364, 3642], 114, "b", 3257);
</script>
</body>
</html>
